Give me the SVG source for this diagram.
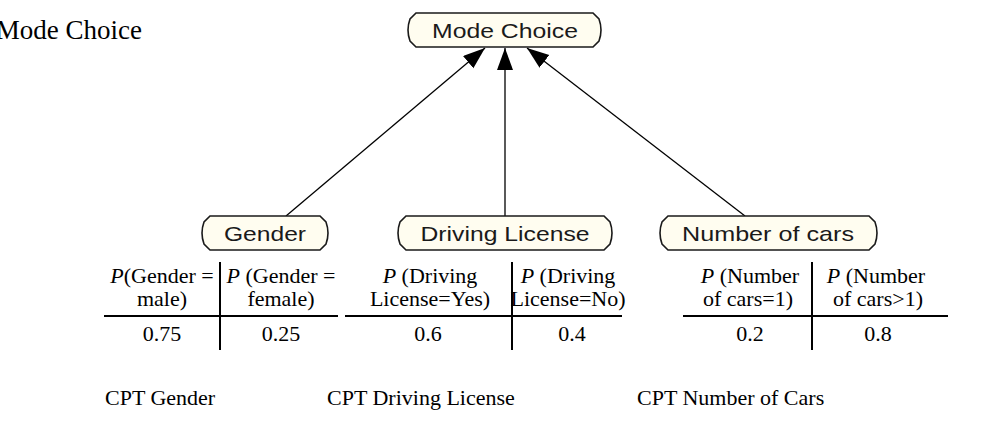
<svg xmlns="http://www.w3.org/2000/svg" width="987" height="428" viewBox="0 0 987 428">
<style>
.node{fill:#fffdf0;stroke:#1a1a1a;stroke-width:1.6}
.nl{font-family:"Liberation Sans",Arial,sans-serif;font-size:21px;fill:#1a1a1a;text-anchor:middle}
.t{font-family:"Liberation Serif","Times New Roman",serif;font-size:22px;fill:#000;text-anchor:middle}
.cap{font-family:"Liberation Serif","Times New Roman",serif;font-size:22px;fill:#000}
.title{font-family:"Liberation Serif","Times New Roman",serif;font-size:27px;fill:#000;text-anchor:end}
.edge{stroke:#000;stroke-width:1.3;fill:none}
.rule{stroke:#000;stroke-width:2}
</style>
<defs>
<marker id="ah" markerUnits="userSpaceOnUse" markerWidth="24" markerHeight="18" refX="22" refY="8" orient="auto">
<path d="M0,0 L22,8 L0,16 Z" fill="#000"/>
</marker>
</defs>
<rect width="987" height="428" fill="#fff"/>
<text class="title" x="142" y="39">Mode Choice</text>
<g id="connectors">
<line class="edge" x1="286" y1="216" x2="485" y2="48" marker-end="url(#ah)"/>
<line class="edge" x1="505" y1="216" x2="505" y2="48" marker-end="url(#ah)"/>
<line class="edge" x1="745" y1="216" x2="527" y2="48" marker-end="url(#ah)"/>
</g>
<g id="node-mode-choice">
<path class="node" d="M416,13 H593 L599,19 Q603,30 599,41 L593,47 H416 L410,41 Q406,30 410,19 Z"/>
<text class="nl" x="505" y="38" textLength="146" lengthAdjust="spacingAndGlyphs">Mode Choice</text>
</g>
<g id="node-gender">
<path class="node" d="M210,216 H320 L326,222 Q330,233 326,244 L320,250 H210 L204,244 Q200,233 204,222 Z"/>
<text class="nl" x="265" y="241" textLength="82" lengthAdjust="spacingAndGlyphs">Gender</text>
</g>
<g id="node-driving-license">
<path class="node" d="M406,216 H604 L610,222 Q614,233 610,244 L604,250 H406 L400,244 Q396,233 400,222 Z"/>
<text class="nl" x="505" y="241" textLength="169" lengthAdjust="spacingAndGlyphs">Driving License</text>
</g>
<g id="node-number-of-cars">
<path class="node" d="M668,216 H869 L875,222 Q879,233 875,244 L869,250 H668 L662,244 Q658,233 662,222 Z"/>
<text class="nl" x="768" y="241" textLength="172" lengthAdjust="spacingAndGlyphs">Number of cars</text>
</g>
<g id="cpt-gender">
<line class="rule" x1="104" y1="316" x2="338" y2="316"/>
<line class="rule" x1="220" y1="262" x2="220" y2="350"/>
<text class="t" x="162" y="283"><tspan font-style="italic">P</tspan>(Gender =</text>
<text class="t" x="162" y="306">male)</text>
<text class="t" x="162" y="341">0.75</text>
<text class="t" x="281" y="283"><tspan font-style="italic">P</tspan> (Gender =</text>
<text class="t" x="281" y="306">female)</text>
<text class="t" x="281" y="341">0.25</text>
<text class="cap" x="105" y="405">CPT Gender</text>
</g>
<g id="cpt-driving-license">
<line class="rule" x1="345" y1="316" x2="622" y2="316"/>
<line class="rule" x1="512" y1="262" x2="512" y2="350"/>
<text class="t" x="430" y="283"><tspan font-style="italic">P</tspan> (Driving</text>
<text class="t" x="430" y="306">License=Yes)</text>
<text class="t" x="428" y="341">0.6</text>
<text class="t" x="568" y="283"><tspan font-style="italic">P</tspan> (Driving</text>
<text class="t" x="568" y="306">License=No)</text>
<text class="t" x="572" y="341">0.4</text>
<text class="cap" x="327" y="405">CPT Driving License</text>
</g>
<g id="cpt-number-of-cars">
<line class="rule" x1="683" y1="316" x2="948" y2="316"/>
<line class="rule" x1="812" y1="262" x2="812" y2="350"/>
<text class="t" x="750" y="283"><tspan font-style="italic">P</tspan> (Number</text>
<text class="t" x="748" y="306">of cars=1)</text>
<text class="t" x="750" y="341">0.2</text>
<text class="t" x="876" y="283"><tspan font-style="italic">P</tspan> (Number</text>
<text class="t" x="878" y="306">of cars&gt;1)</text>
<text class="t" x="878" y="341">0.8</text>
<text class="cap" x="637" y="405">CPT Number of Cars</text>
</g>
</svg>
